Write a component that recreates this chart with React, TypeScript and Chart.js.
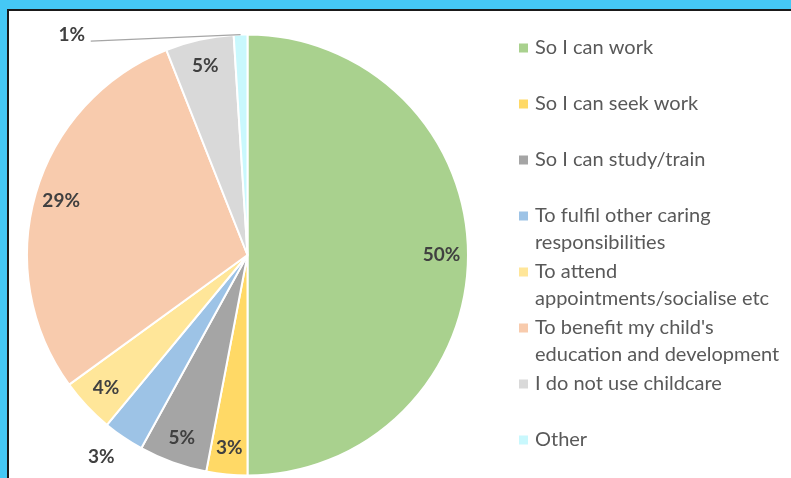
import React, { useEffect, useRef } from "react";
import { Chart, registerables } from "chart.js";

Chart.register(...registerables);

const categories: string[][] = [
  ["So I can work"],
  ["So I can seek work"],
  ["So I can study/train"],
  ["To fulfil other caring", "responsibilities"],
  ["To attend", "appointments/socialise etc"],
  ["To benefit my child's", "education and development"],
  ["I do not use childcare"],
  ["Other"],
];
const shares = [50, 3, 5, 3, 4, 29, 5, 1];
const sliceColors = [
  "#A9D18E",
  "#FFD966",
  "#A5A5A5",
  "#9DC3E6",
  "#FFE699",
  "#F8CBAD",
  "#D9D9D9",
  "#C9F8FD",
];

const W = 791;
const H = 478;

const labelPlugin = {
  id: "sliceLabels",
  afterDatasetsDraw(chart: any) {
    const meta = chart.getDatasetMeta(0);
    const data = chart.data.datasets[0].data as number[];
    const total = data.reduce((a, b) => a + b, 0);
    const ctx = chart.ctx;
    ctx.save();
    ctx.font = "bold 19px Lato";
    ctx.fillStyle = "#404040";
    ctx.textAlign = "center";
    ctx.textBaseline = "middle";
    meta.data.forEach((arc: any, i: number) => {
      const { x, y, startAngle, endAngle, outerRadius } = arc.getProps(
        ["x", "y", "startAngle", "endAngle", "outerRadius"],
        true
      );
      const mid = (startAngle + endAngle) / 2;
      const text = Math.round((data[i] / total) * 100) + "%";
      let lx: number, ly: number;
      if (i === 3) {
        lx = x + Math.cos(mid + 0.03) * outerRadius * 1.13;
        ly = y + Math.sin(mid + 0.03) * outerRadius * 1.13;
      } else if (i === data.length - 1) {
        lx = x - outerRadius * 0.797;
        ly = y - outerRadius * 0.997;
        const ax = x + Math.cos(mid) * outerRadius;
        const ay = y + Math.sin(mid) * outerRadius;
        ctx.strokeStyle = "#A6A6A6";
        ctx.lineWidth = 1.2;
        ctx.beginPath();
        ctx.moveTo(ax, ay);
        ctx.lineTo(lx + 19, ly + 6);
        ctx.stroke();
      } else {
        lx = x + Math.cos(mid) * outerRadius * 0.88;
        ly = y + Math.sin(mid) * outerRadius * 0.88;
      }
      ctx.fillText(text, lx, ly);
    });
    ctx.restore();
  },
};

const legendPlugin = {
  id: "sideLegend",
  afterDraw(chart: any) {
    const ctx = chart.ctx;
    const colors = chart.data.datasets[0].backgroundColor as string[];
    ctx.save();
    ctx.font = "20px Lato";
    ctx.textAlign = "left";
    ctx.textBaseline = "middle";
    const x0 = 519;
    const y0 = 48;
    const step = 56;
    const lineH = 27;
    categories.forEach((lines, i) => {
      const y = y0 + i * step;
      ctx.fillStyle = colors[i];
      ctx.fillRect(x0, y - 4.5, 9, 9);
      ctx.fillStyle = "#595959";
      lines.forEach((t, j) => ctx.fillText(t, x0 + 16, y + j * lineH));
    });
    ctx.restore();
  },
};

export default function App() {
  const ref = useRef<HTMLCanvasElement>(null);
  useEffect(() => {
    if (!ref.current) return;
    const chart = new Chart(ref.current, {
      type: "pie",
      data: {
        labels: categories.map((c) => c.join(" ")),
        datasets: [
          {
            data: shares,
            backgroundColor: sliceColors,
            borderColor: "#FFFFFF",
            borderWidth: 2,
          },
        ],
      },
      options: {
        responsive: false,
        animation: false,
        devicePixelRatio: 1,
        layout: { padding: { left: 26, top: 33, right: 322, bottom: 1 } },
        plugins: {
          legend: { display: false },
          tooltip: { enabled: false },
        },
      },
      plugins: [labelPlugin, legendPlugin],
    });
    return () => chart.destroy();
  }, []);
  return (
    <div
      style={{
        position: "fixed",
        left: 0,
        top: 0,
        width: W,
        height: H,
        background: "#45C8F5",
        overflow: "hidden",
      }}
    >
      <div
        style={{
          position: "absolute",
          left: 7,
          top: 9,
          width: W,
          height: H,
          background: "#FFFFFF",
          borderLeft: "2px solid #1A1A1A",
          borderTop: "2px solid #1A1A1A",
        }}
      />
      <canvas
        ref={ref}
        width={W}
        height={H}
        style={{ position: "absolute", left: 0, top: 0, width: W, height: H }}
      />
    </div>
  );
}
